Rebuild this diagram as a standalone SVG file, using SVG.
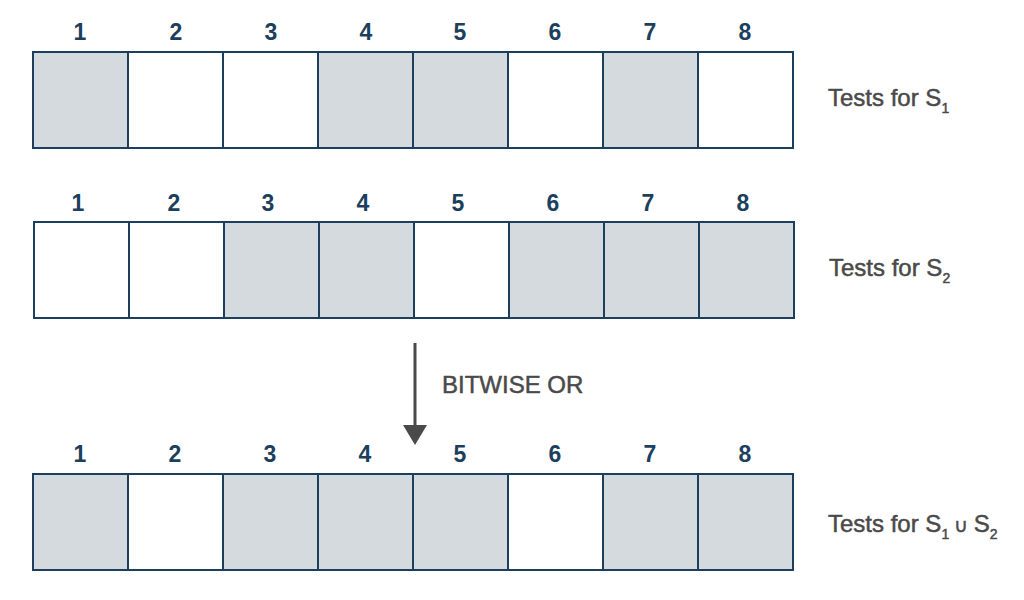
<svg xmlns="http://www.w3.org/2000/svg" width="1024" height="600" viewBox="0 0 1024 600">
<style>
.c{stroke:#1d3f5e;stroke-width:2}
.g{fill:#d5dadf}
.w{fill:#ffffff}
.n{font-family:"Liberation Sans",Arial,sans-serif;font-weight:bold;font-size:23px;fill:#1d3f5e;text-anchor:middle}
.l{font-family:"Liberation Sans",Arial,sans-serif;font-size:24px;fill:#4a4a4a;stroke:#4a4a4a;stroke-width:0.5}
.s{font-size:14px}
.u{font-size:19px}
</style>
<rect width="1024" height="600" fill="#ffffff"/>
<g id="row1">
<rect class="c g" x="33" y="52" width="95" height="96"/>
<rect class="c w" x="128" y="52" width="95" height="96"/>
<rect class="c w" x="223" y="52" width="95" height="96"/>
<rect class="c g" x="318" y="52" width="95" height="96"/>
<rect class="c g" x="413" y="52" width="95" height="96"/>
<rect class="c w" x="508" y="52" width="95" height="96"/>
<rect class="c g" x="603" y="52" width="95" height="96"/>
<rect class="c w" x="698" y="52" width="95" height="96"/>
<text class="n" x="80" y="40">1</text>
<text class="n" x="176" y="40">2</text>
<text class="n" x="271" y="40">3</text>
<text class="n" x="366" y="40">4</text>
<text class="n" x="460" y="40">5</text>
<text class="n" x="555" y="40">6</text>
<text class="n" x="650" y="40">7</text>
<text class="n" x="745" y="40">8</text>
<text class="l" x="828" y="106">Tests for S<tspan class="s" dy="7">1</tspan></text>
</g>
<g id="row2">
<rect class="c w" x="34" y="222" width="95" height="96"/>
<rect class="c w" x="129" y="222" width="95" height="96"/>
<rect class="c g" x="224" y="222" width="95" height="96"/>
<rect class="c g" x="319" y="222" width="95" height="96"/>
<rect class="c w" x="414" y="222" width="95" height="96"/>
<rect class="c g" x="509" y="222" width="95" height="96"/>
<rect class="c g" x="604" y="222" width="95" height="96"/>
<rect class="c g" x="699" y="222" width="95" height="96"/>
<text class="n" x="78" y="211">1</text>
<text class="n" x="174" y="211">2</text>
<text class="n" x="268" y="211">3</text>
<text class="n" x="363" y="211">4</text>
<text class="n" x="458" y="211">5</text>
<text class="n" x="553" y="211">6</text>
<text class="n" x="648" y="211">7</text>
<text class="n" x="743" y="211">8</text>
<text class="l" x="829" y="276">Tests for S<tspan class="s" dy="7">2</tspan></text>
</g>
<g id="row3">
<rect class="c g" x="33" y="474" width="95" height="96"/>
<rect class="c w" x="128" y="474" width="95" height="96"/>
<rect class="c g" x="223" y="474" width="95" height="96"/>
<rect class="c g" x="318" y="474" width="95" height="96"/>
<rect class="c g" x="413" y="474" width="95" height="96"/>
<rect class="c w" x="508" y="474" width="95" height="96"/>
<rect class="c g" x="603" y="474" width="95" height="96"/>
<rect class="c g" x="698" y="474" width="95" height="96"/>
<text class="n" x="80" y="462">1</text>
<text class="n" x="175" y="462">2</text>
<text class="n" x="270" y="462">3</text>
<text class="n" x="365" y="462">4</text>
<text class="n" x="460" y="462">5</text>
<text class="n" x="555" y="462">6</text>
<text class="n" x="650" y="462">7</text>
<text class="n" x="745" y="462">8</text>
<text class="l" x="828" y="532">Tests for S<tspan class="s" dy="7">1</tspan><tspan class="u" dy="-7"> ∪ </tspan><tspan>S</tspan><tspan class="s" dy="7">2</tspan></text>
</g>
<g id="connectors">
<line x1="415" y1="343" x2="415" y2="426" stroke="#4a4a4a" stroke-width="3"/>
<polygon points="403,425 427,425 415,445" fill="#4a4a4a"/>
<text class="l" x="442" y="393">BITWISE OR</text>
</g>
</svg>
